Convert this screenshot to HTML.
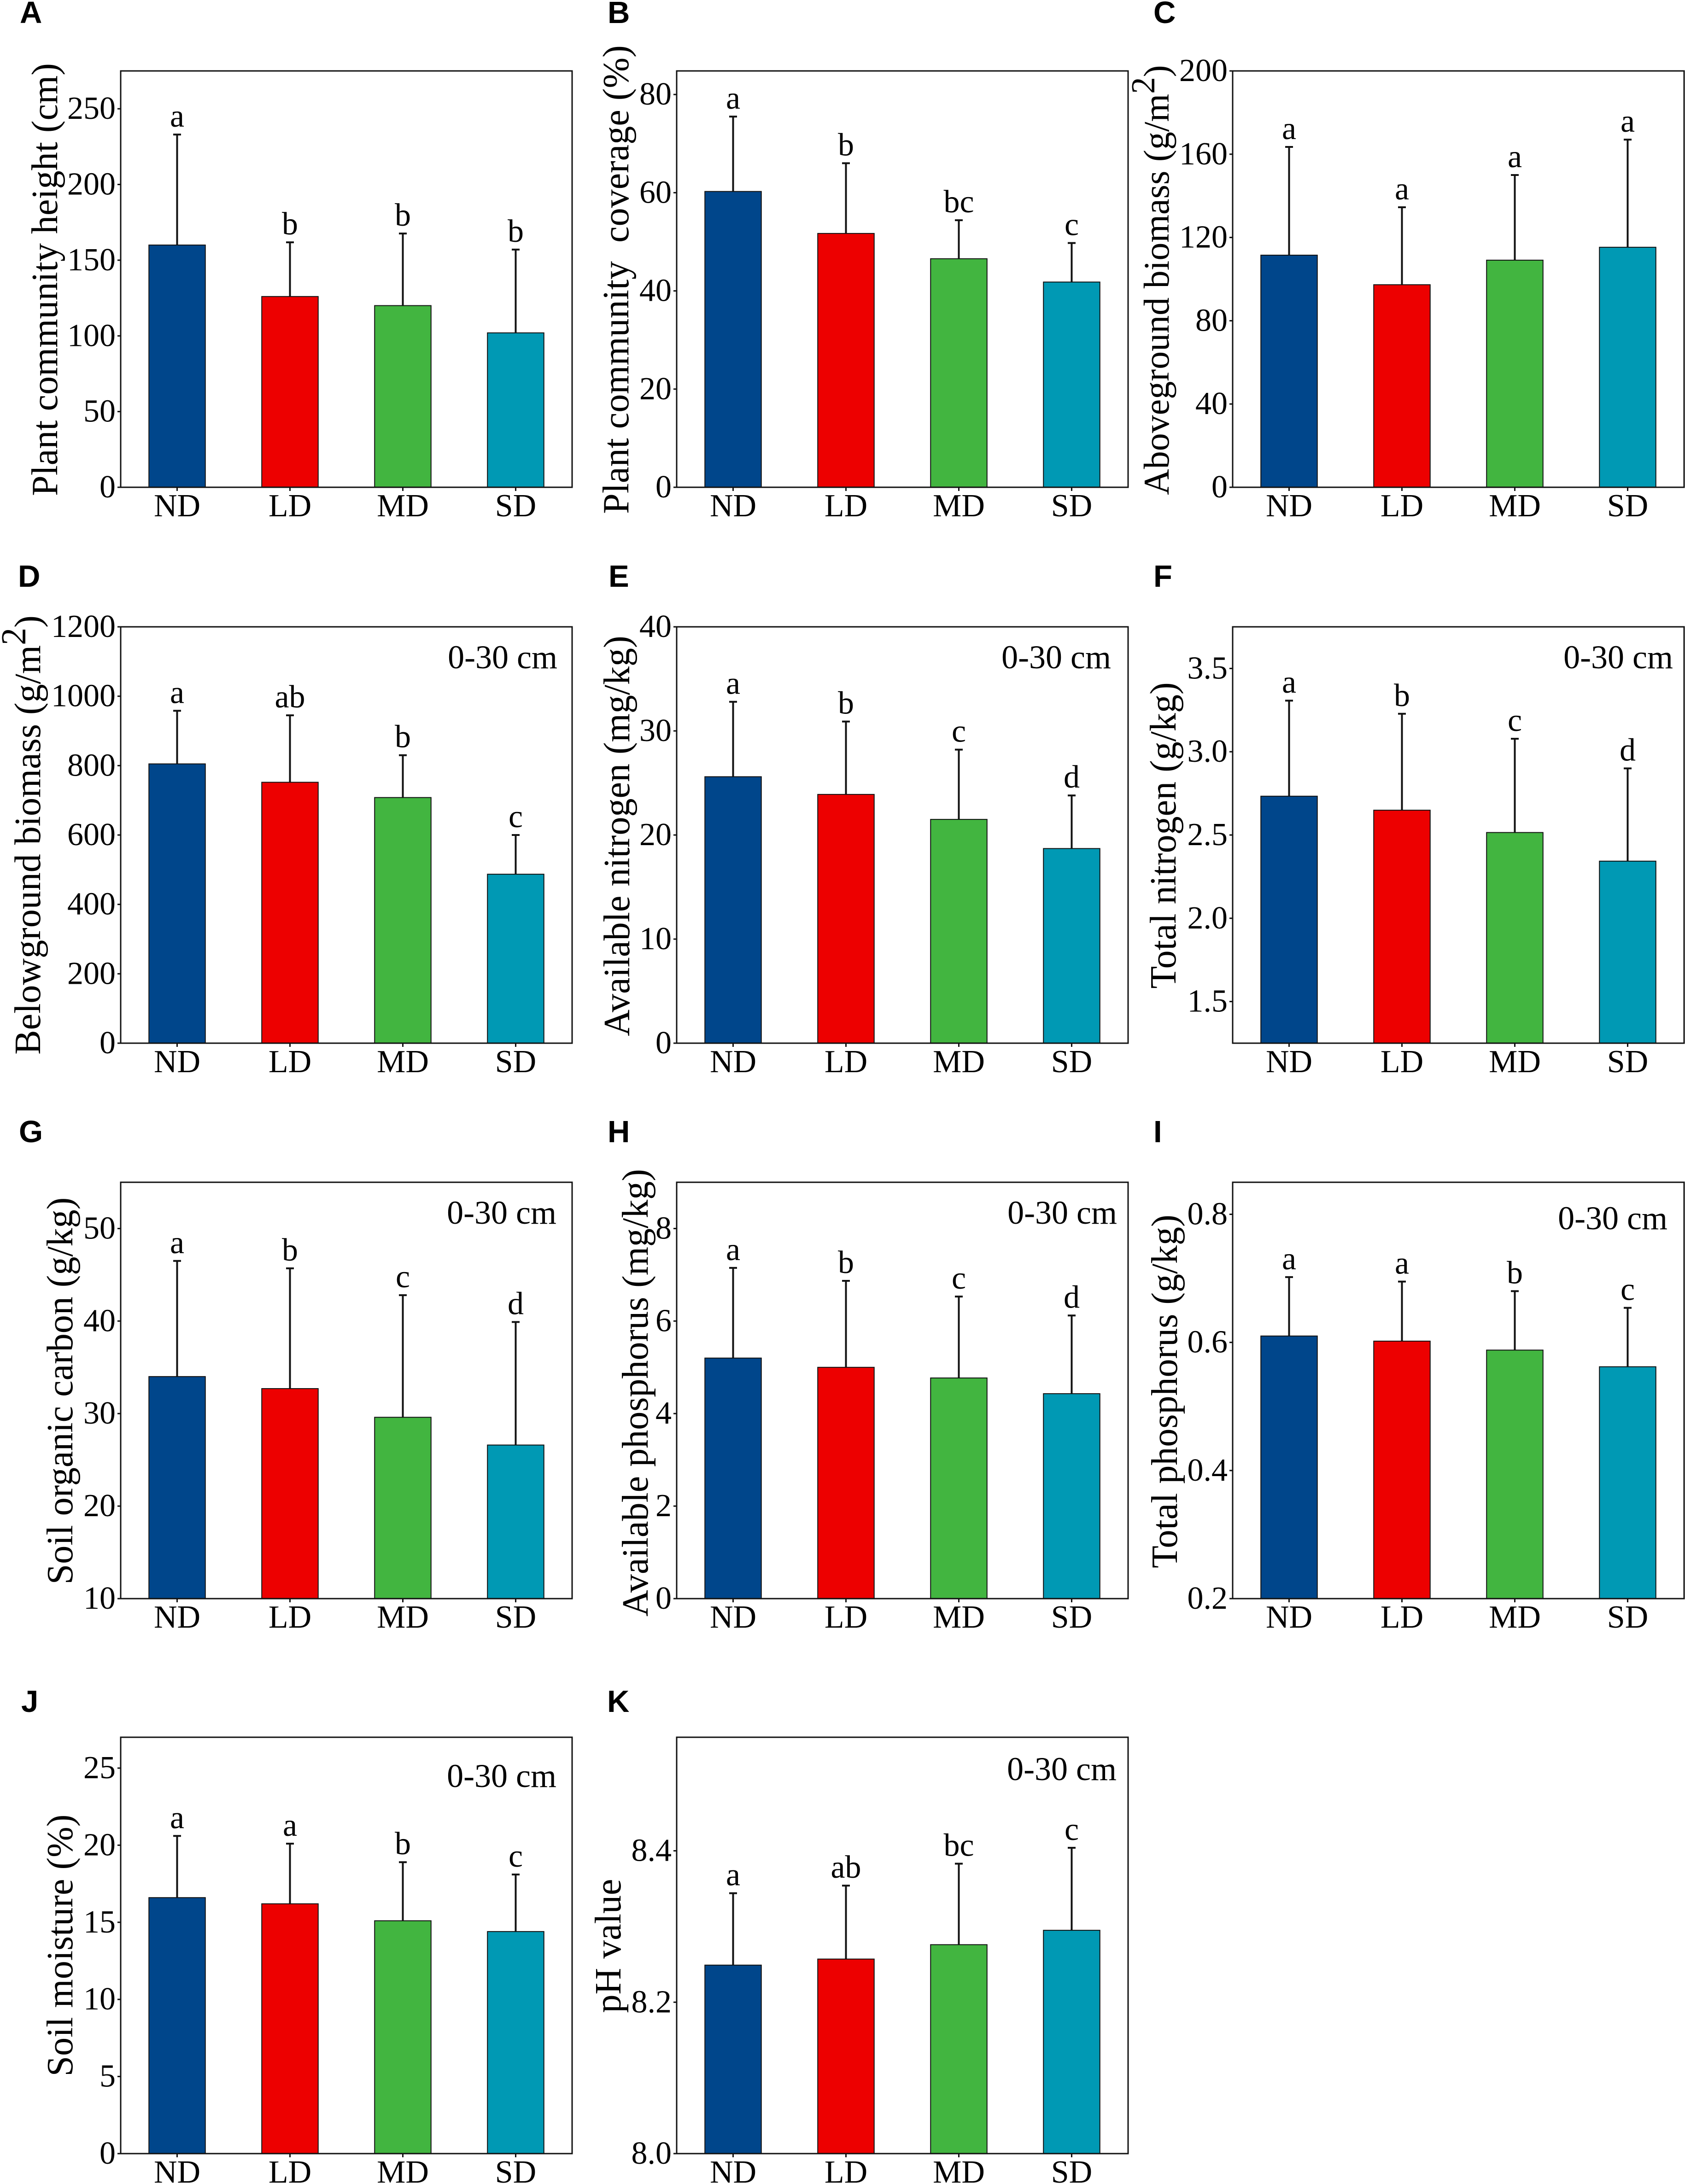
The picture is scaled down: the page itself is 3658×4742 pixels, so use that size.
<!DOCTYPE html>
<html lang="en">
<head>
<meta charset="utf-8">
<title>Grassland degradation bar charts</title>
<style>
html,body{margin:0;padding:0;background:#fff;}
svg{display:block;}
text{font-family:"Liberation Serif",serif;fill:#000;white-space:pre;}
.ylab{font-size:80px;text-anchor:middle;}
.tag{font-family:"Liberation Sans",sans-serif;font-weight:700;font-size:67px;}
.depth{font-size:72px;text-anchor:end;}
.tick{font-size:70px;text-anchor:end;}
.cat{font-size:70px;text-anchor:middle;}
.sig{font-size:70px;text-anchor:middle;}
.frame{fill:none;stroke:#111;stroke-width:3;}
</style>
</head>
<body>
<svg id="figure" xmlns="http://www.w3.org/2000/svg" width="3658" height="4742" viewBox="0 0 3658 4742">
<rect x="0" y="0" width="3658" height="4742" fill="#fff"/>

<g id="panel-a">
<text class="tag" x="43" y="50">A</text>
<text class="ylab" transform="translate(124,607) rotate(-90)">Plant community height (cm)</text>
<g class="marks"></g>
</g>

<g id="panel-b">
<text class="tag" x="1319" y="50">B</text>
<text class="ylab" transform="translate(1364,607) rotate(-90)">Plant community  coverage (%)</text>
<g class="marks"></g>
</g>

<g id="panel-c">
<text class="tag" x="2504" y="50">C</text>
<text class="ylab" font-size="78" style="font-size:78px" transform="translate(2537,608) rotate(-90)">Aboveground biomass (g/m<tspan style="font-size:73px" dy="-31">2</tspan><tspan dy="31">)</tspan></text>
<g class="marks"></g>
</g>

<g id="panel-d">
<text class="tag" x="39" y="1274">D</text>
<text class="ylab" transform="translate(87,1813) rotate(-90)">Belowground biomass (g/m<tspan style="font-size:76px" dy="-32">2</tspan><tspan dy="32">)</tspan></text>
<text class="depth" x="1210" y="1451">0-30 cm</text>
<g class="marks"></g>
</g>

<g id="panel-e">
<text class="tag" x="1321" y="1274">E</text>
<text class="ylab" transform="translate(1366,1815) rotate(-90)">Available nitrogen (mg/kg)</text>
<text class="depth" x="2412" y="1451">0-30 cm</text>
<g class="marks"></g>
</g>

<g id="panel-f">
<text class="tag" x="2504" y="1274">F</text>
<text class="ylab" transform="translate(2552,1814) rotate(-90)">Total nitrogen (g/kg)</text>
<text class="depth" x="3632" y="1451">0-30 cm</text>
<g class="marks"></g>
</g>

<g id="panel-g">
<text class="tag" x="41" y="2480">G</text>
<text class="ylab" transform="translate(157,3020) rotate(-90)">Soil organic carbon (g/kg)</text>
<text class="depth" x="1208" y="2657">0-30 cm</text>
<g class="marks"></g>
</g>

<g id="panel-h">
<text class="tag" x="1319" y="2480">H</text>
<text class="ylab" transform="translate(1406,3024) rotate(-90)">Available phosphorus (mg/kg)</text>
<text class="depth" x="2425" y="2657">0-30 cm</text>
<g class="marks"></g>
</g>

<g id="panel-i">
<text class="tag" x="2504" y="2480">I</text>
<text class="ylab" transform="translate(2555,3021) rotate(-90)">Total phosphorus (g/kg)</text>
<text class="depth" x="3620" y="2669">0-30 cm</text>
<g class="marks"></g>
</g>

<g id="panel-j">
<text class="tag" x="46" y="3717">J</text>
<text class="ylab" transform="translate(157,4224) rotate(-90)">Soil moisture (%)</text>
<text class="depth" x="1208" y="3880">0-30 cm</text>
<g class="marks"></g>
</g>

<g id="panel-k">
<text class="tag" x="1318" y="3717">K</text>
<text class="ylab" transform="translate(1347,4225) rotate(-90)">pH value</text>
<text class="depth" x="2424" y="3865">0-30 cm</text>
<g class="marks"></g>
</g>
</svg>

<script>
const categories = ['ND', 'LD', 'MD', 'SD'];

const aDomain = [0, 275];
const aTicks = [0, 50, 100, 150, 200, 250];
const aTickLabels = ['0', '50', '100', '150', '200', '250'];
const aMeans = [160, 126, 120, 102];
const aErrorTops = [233, 161.8, 167.6, 157];
const aSignificance = ['a', 'b', 'b', 'b'];

const bDomain = [0, 84.8];
const bTicks = [0, 20, 40, 60, 80];
const bTickLabels = ['0', '20', '40', '60', '80'];
const bMeans = [60.25, 51.7, 46.55, 41.8];
const bErrorTops = [75.5, 66, 54.4, 49.75];
const bSignificance = ['a', 'b', 'bc', 'c'];

const cDomain = [0, 200];
const cTicks = [0, 40, 80, 120, 160, 200];
const cTickLabels = ['0', '40', '80', '120', '160', '200'];
const cMeans = [111.5, 97.3, 109.1, 115.3];
const cErrorTops = [163.5, 134.5, 150, 167];
const cSignificance = ['a', 'a', 'a', 'a'];

const dDomain = [0, 1200];
const dTicks = [0, 200, 400, 600, 800, 1000, 1200];
const dTickLabels = ['0', '200', '400', '600', '800', '1000', '1200'];
const dMeans = [805, 752, 708, 487];
const dErrorTops = [958, 945, 830, 600];
const dSignificance = ['a', 'ab', 'b', 'c'];

const eDomain = [0, 40];
const eTicks = [0, 10, 20, 30, 40];
const eTickLabels = ['0', '10', '20', '30', '40'];
const eMeans = [25.6, 23.9, 21.5, 18.7];
const eErrorTops = [32.8, 30.9, 28.2, 23.8];
const eSignificance = ['a', 'b', 'c', 'd'];

const fDomain = [1.25, 3.75];
const fTicks = [1.5, 2, 2.5, 3, 3.5];
const fTickLabels = ['1.5', '2.0', '2.5', '3.0', '3.5'];
const fMeans = [2.733, 2.649, 2.515, 2.343];
const fErrorTops = [3.307, 3.228, 3.078, 2.9];
const fSignificance = ['a', 'b', 'c', 'd'];

const gDomain = [10, 55];
const gTicks = [10, 20, 30, 40, 50];
const gTickLabels = ['10', '20', '30', '40', '50'];
const gMeans = [34, 32.7, 29.6, 26.6];
const gErrorTops = [46.5, 45.7, 42.8, 39.9];
const gSignificance = ['a', 'b', 'c', 'd'];

const hDomain = [0, 9];
const hTicks = [0, 2, 4, 6, 8];
const hTickLabels = ['0', '2', '4', '6', '8'];
const hMeans = [5.2, 5.0, 4.77, 4.43];
const hErrorTops = [7.15, 6.87, 6.53, 6.12];
const hSignificance = ['a', 'b', 'c', 'd'];

const iDomain = [0.2, 0.85];
const iTicks = [0.2, 0.4, 0.6, 0.8];
const iTickLabels = ['0.2', '0.4', '0.6', '0.8'];
const iMeans = [0.61, 0.602, 0.588, 0.562];
const iErrorTops = [0.702, 0.695, 0.68, 0.654];
const iSignificance = ['a', 'a', 'b', 'c'];

const jDomain = [0, 27];
const jTicks = [0, 5, 10, 15, 20, 25];
const jTickLabels = ['0', '5', '10', '15', '20', '25'];
const jMeans = [16.6, 16.2, 15.1, 14.4];
const jErrorTops = [20.6, 20.1, 18.9, 18.1];
const jSignificance = ['a', 'a', 'b', 'c'];

const kDomain = [8.0, 8.55];
const kTicks = [8.0, 8.2, 8.4];
const kTickLabels = ['8.0', '8.2', '8.4'];
const kMeans = [8.249, 8.257, 8.276, 8.295];
const kErrorTops = [8.344, 8.354, 8.383, 8.404];
const kSignificance = ['a', 'ab', 'bc', 'c'];

const panels = [
  { id: 'a', col: 0, row: 0, domain: aDomain, ticks: aTicks, tickLabels: aTickLabels, means: aMeans, errorTops: aErrorTops, significance: aSignificance },
  { id: 'b', col: 1, row: 0, domain: bDomain, ticks: bTicks, tickLabels: bTickLabels, means: bMeans, errorTops: bErrorTops, significance: bSignificance },
  { id: 'c', col: 2, row: 0, domain: cDomain, ticks: cTicks, tickLabels: cTickLabels, means: cMeans, errorTops: cErrorTops, significance: cSignificance },
  { id: 'd', col: 0, row: 1, domain: dDomain, ticks: dTicks, tickLabels: dTickLabels, means: dMeans, errorTops: dErrorTops, significance: dSignificance },
  { id: 'e', col: 1, row: 1, domain: eDomain, ticks: eTicks, tickLabels: eTickLabels, means: eMeans, errorTops: eErrorTops, significance: eSignificance },
  { id: 'f', col: 2, row: 1, domain: fDomain, ticks: fTicks, tickLabels: fTickLabels, means: fMeans, errorTops: fErrorTops, significance: fSignificance },
  { id: 'g', col: 0, row: 2, domain: gDomain, ticks: gTicks, tickLabels: gTickLabels, means: gMeans, errorTops: gErrorTops, significance: gSignificance },
  { id: 'h', col: 1, row: 2, domain: hDomain, ticks: hTicks, tickLabels: hTickLabels, means: hMeans, errorTops: hErrorTops, significance: hSignificance },
  { id: 'i', col: 2, row: 2, domain: iDomain, ticks: iTicks, tickLabels: iTickLabels, means: iMeans, errorTops: iErrorTops, significance: iSignificance },
  { id: 'j', col: 0, row: 3, domain: jDomain, ticks: jTicks, tickLabels: jTickLabels, means: jMeans, errorTops: jErrorTops, significance: jSignificance },
  { id: 'k', col: 1, row: 3, domain: kDomain, ticks: kTicks, tickLabels: kTickLabels, means: kMeans, errorTops: kErrorTops, significance: kSignificance }
];

const barColors = ['#00468B', '#ED0000', '#42B540', '#0099B4'];
const NS = 'http://www.w3.org/2000/svg';
const plotWidth = 980;
const plotHeight = 904;
const colLeft = [262, 1469, 2676];
const rowTop = [154, 1361, 2567, 3772];

function node(parent, tag) {
  const el = document.createElementNS(NS, tag);
  parent.appendChild(el);
  return el;
}
function line(el, x1, y1, x2, y2, width) {
  el.setAttribute('x1', x1);
  el.setAttribute('y1', y1);
  el.setAttribute('x2', x2);
  el.setAttribute('y2', y2);
  el.setAttribute('stroke', '#111');
  el.setAttribute('stroke-width', width);
}

panels.forEach(function (p) {
  const left = colLeft[p.col];
  const top = rowTop[p.row];
  const bottom = top + plotHeight;
  const g = document.querySelector('#panel-' + p.id + ' .marks');
  const yScale = function (v) {
    return bottom - (v - p.domain[0]) / (p.domain[1] - p.domain[0]) * plotHeight;
  };
  const step = plotWidth / categories.length;
  const xScale = function (i) {
    return left + step * (i + 0.5);
  };
  const barWidth = step * 0.5;

  categories.forEach(function (cat, i) {
    const cx = xScale(i);
    const key = cat.toLowerCase() + '-' + p.id;

    const stem = node(g, 'line');
    
    
    line(stem, cx, yScale(p.means[i]), cx, yScale(p.errorTops[i]), 4);

    const cap = node(g, 'line');
    
    
    line(cap, cx - 8.5, yScale(p.errorTops[i]), cx + 8.5, yScale(p.errorTops[i]), 4);

    const bar = node(g, 'rect');
    
    
    bar.setAttribute('x', cx - barWidth / 2);
    bar.setAttribute('y', yScale(p.means[i]));
    bar.setAttribute('width', barWidth);
    bar.setAttribute('height', bottom - yScale(p.means[i]));
    bar.setAttribute('fill', barColors[i]);
    bar.setAttribute('stroke', '#111');
    bar.setAttribute('stroke-width', 2);

    const sig = node(g, 'text');
    
    
    sig.setAttribute('class', 'sig');
    sig.setAttribute('x', cx);
    sig.setAttribute('y', yScale(p.errorTops[i]) - 17);
    sig.textContent = p.significance[i];

    const xTick = node(g, 'line');
    
    
    line(xTick, cx, bottom, cx, bottom + 8, 3);

    const xLabel = node(g, 'text');
    
    
    xLabel.setAttribute('class', 'cat');
    xLabel.setAttribute('x', cx);
    xLabel.setAttribute('y', bottom + 63);
    xLabel.textContent = cat;
  });

  p.ticks.forEach(function (t, i) {
    const tick = node(g, 'line');
    
    
    line(tick, left - 7, yScale(t), left, yScale(t), 3);

    const label = node(g, 'text');
    
    
    label.setAttribute('class', 'tick');
    label.setAttribute('x', left - 11);
    label.setAttribute('y', yScale(t) + 22);
    label.textContent = p.tickLabels[i];
  });

  const frame = node(g, 'rect');
  
  
  frame.setAttribute('class', 'frame');
  frame.setAttribute('x', left);
  frame.setAttribute('y', top);
  frame.setAttribute('width', plotWidth);
  frame.setAttribute('height', plotHeight);
});
</script>
</body>
</html>
